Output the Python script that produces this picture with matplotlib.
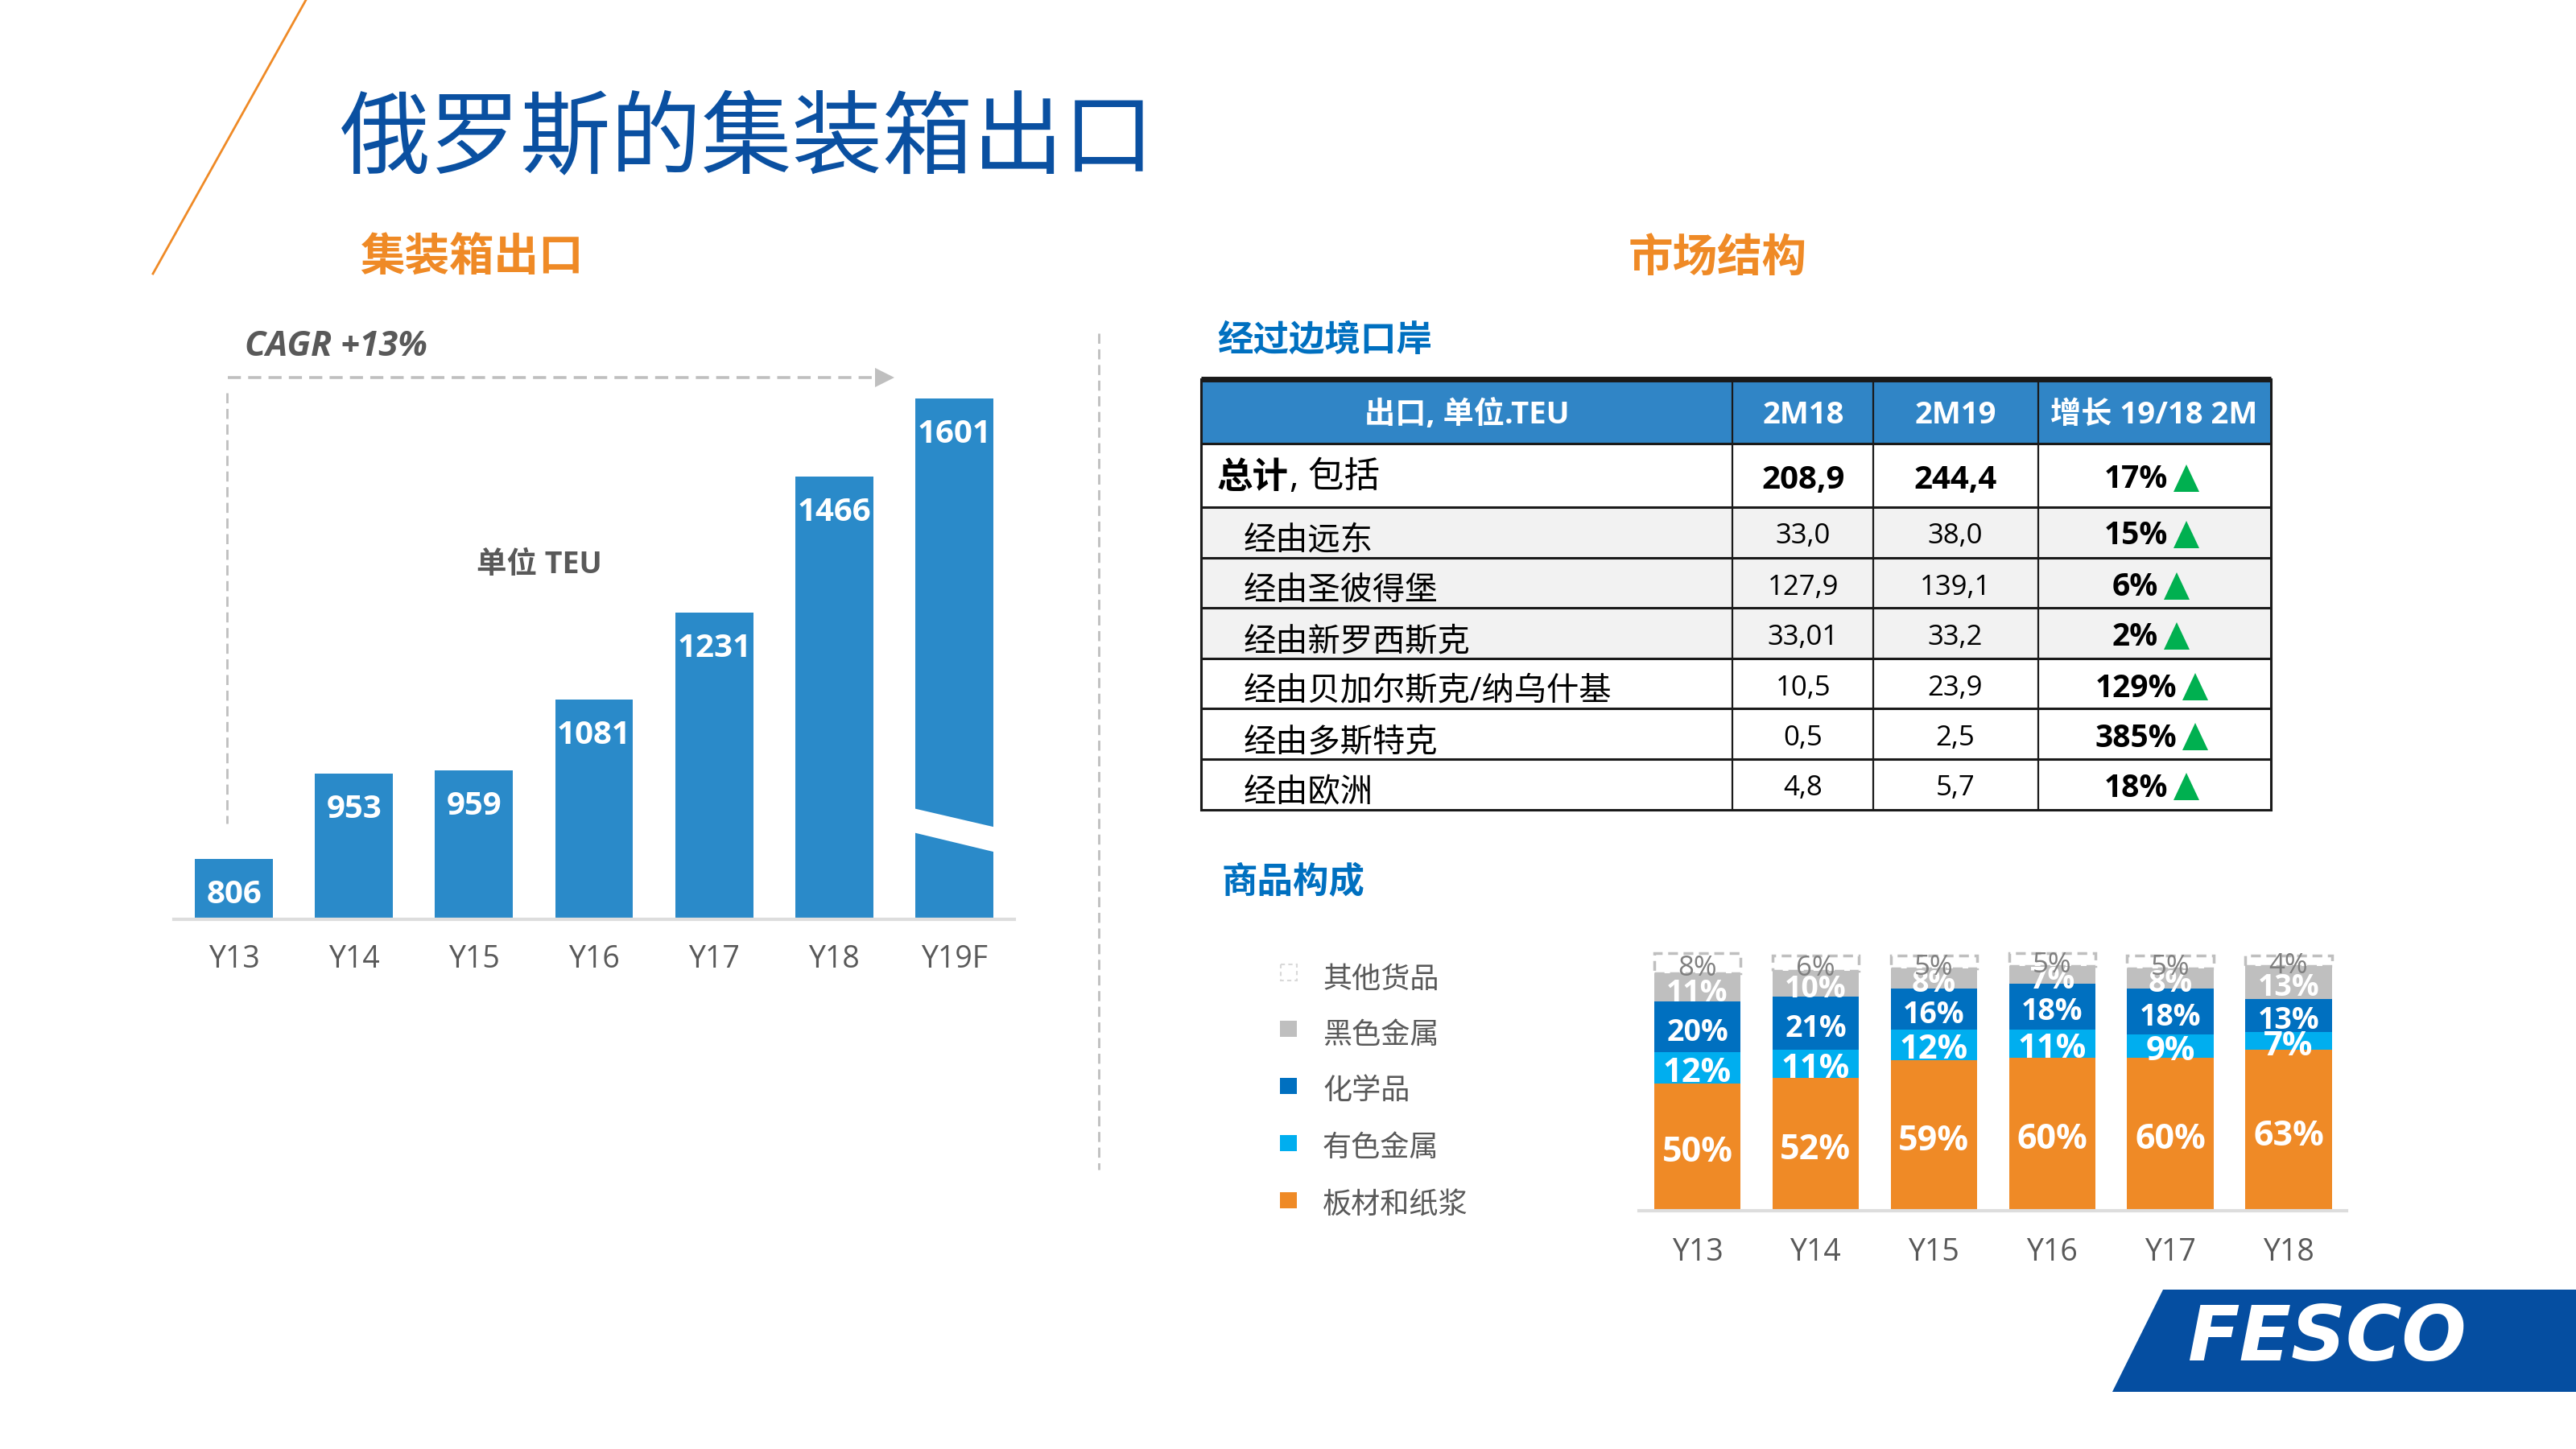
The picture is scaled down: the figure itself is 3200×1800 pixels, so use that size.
import matplotlib
matplotlib.use('Agg')
import matplotlib.pyplot as plt
from matplotlib.patches import Polygon, Rectangle

FONTS = ['Open Sans', 'Noto Sans CJK SC', 'DejaVu Sans']
plt.rcParams['font.family'] = FONTS

W, H = 3200, 1800
ORANGE = '#EF8A26'
BLUE = '#2A8AC9'
GREY_TEXT = '#595959'
LIGHT_GREY = '#BFBFBF'

# left chart
years = ['Y13', 'Y14', 'Y15', 'Y16', 'Y17', 'Y18', 'Y19F']
teu = [806, 953, 959, 1081, 1231, 1466, 1601]

# table
table_header = ['出口, 单位.TEU', '2M18', '2M19', '增长 19/18 2M']
row_names = ['总计, 包括', '经由远东', '经由圣彼得堡', '经由新罗西斯克',
             '经由贝加尔斯克/纳乌什基', '经由多斯特克', '经由欧洲']
col_2m18 = ['208,9', '33,0', '127,9', '33,01', '10,5', '0,5', '4,8']
col_2m19 = ['244,4', '38,0', '139,1', '33,2', '23,9', '2,5', '5,7']
col_growth = ['17%', '15%', '6%', '2%', '129%', '385%', '18%']

# stacked chart
mix_years = ['Y13', 'Y14', 'Y15', 'Y16', 'Y17', 'Y18']
pulp = [50, 52, 59, 60, 60, 63]
nonferrous = [12, 11, 12, 11, 9, 7]
chemicals = [20, 21, 16, 18, 18, 13]
ferrous = [11, 10, 8, 7, 8, 13]
other = [8, 6, 5, 5, 5, 4]
mix_names = ['其他货品', '黑色金属', '化学品', '有色金属', '板材和纸浆']

fig = plt.figure(figsize=(32, 18), dpi=100, facecolor='white')


def px_axes(left, top, right, bottom, **kw):
    return fig.add_axes([left / W, 1 - bottom / H, (right - left) / W, (bottom - top) / H], **kw)


def clean(ax):
    for s in ['top', 'left', 'right']:
        ax.spines[s].set_visible(False)
    ax.spines['bottom'].set_color('#DDDDDD')
    ax.spines['bottom'].set_linewidth(3)
    ax.set_yticks([])
    ax.tick_params(axis='x', length=0, labelsize=27, labelcolor=GREY_TEXT, pad=22)
    ax.patch.set_alpha(0)


# bar chart, axis does not start at zero in the source
ax1 = px_axes(216, 495, 1260, 1142)
ax1.bar(range(len(teu)), teu, width=0.65, color=BLUE, zorder=2)
ax1.set_xlim(-0.5, 6.5)
ax1.set_ylim(702, 1601)
ax1.set_xticks(range(len(years)))
ax1.set_xticklabels(years)
clean(ax1)
for i, v in enumerate(teu):
    ax1.annotate(str(v), (i, v), xytext=(0, -32), textcoords='offset points', ha='center',
                 va='center', color='white', fontsize=29, fontweight='bold', zorder=3)

# stacked bars
ax2 = px_axes(2036, 1180, 2915, 1504)
xs = list(range(len(mix_years)))
series = [pulp, nonferrous, chemicals, ferrous, other]
mix_colors = [ORANGE, '#00AEEF', '#0070C0', LIGHT_GREY, 'white']
label_colors = ['white', 'white', 'white', 'white', '#7F7F7F']
label_sizes = [31, 30, 27, 27, 25]
bottoms = [0] * len(xs)
for k, vals in enumerate(series):
    if k == 4:
        ax2.bar(xs, vals, 0.73, bottom=bottoms, color='white', edgecolor=LIGHT_GREY, linewidth=2.5,
                linestyle=(0, (3.5, 2)), zorder=1)
    else:
        ax2.bar(xs, vals, 0.73, bottom=bottoms, color=mix_colors[k], zorder=2)
    for i, v in enumerate(vals):
        ax2.annotate('%d%%' % v, (i, bottoms[i] + v / 2), xytext=(0, -5), textcoords='offset points',
                     ha='center', va='center', color=label_colors[k], fontsize=label_sizes[k],
                     fontweight='bold' if k < 4 else 'normal', zorder=5, annotation_clip=False)
    bottoms = [b + v for b, v in zip(bottoms, vals)]
ax2.set_xlim((2036 - 2108.5) / 146.9, (2915 - 2108.5) / 146.9)
ax2.set_ylim(0, 324 / 3.17)
ax2.set_xticks(xs)
ax2.set_xticklabels(mix_years)
clean(ax2)
ax2.tick_params(axis='x', pad=24)

# everything else in pixel coordinates of the slide
ov = fig.add_axes([0, 0, 1, 1], zorder=10)
ov.set_xlim(0, W)
ov.set_ylim(H, 0)
ov.axis('off')
ov.patch.set_alpha(0)

ov.plot([380, 190], [0, 340], color=ORANGE, lw=2)
ov.text(422, 174, '俄罗斯的集装箱出口', fontsize=81, color='#0A50A1', va='center', family='Noto Sans CJK SC')
ov.text(447, 321, '集装箱出口', fontsize=40, color=ORANGE, va='center', fontweight='bold', family='Noto Sans CJK SC')
ov.text(2023, 321, '市场结构', fontsize=40, color=ORANGE, va='center', fontweight='bold', family='Noto Sans CJK SC')
ov.text(1512, 423, '经过边境口岸', fontsize=32, color='#0070C0', va='center', fontweight='bold', family='Noto Sans CJK SC')
ov.text(1518, 1096, '商品构成', fontsize=32, color='#0070C0', va='center', fontweight='bold', family='Noto Sans CJK SC')
ov.text(304, 431, 'CAGR +13%', fontsize=31, color=GREY_TEXT, va='center', fontweight='bold', style='italic')
ov.text(592, 702, '单位 TEU', fontsize=27, color=GREY_TEXT, va='center', fontweight='bold')

# CAGR arrow and divider
dash = (0, (4.5, 2.5))
ov.plot([283, 1087], [469, 469], color=LIGHT_GREY, lw=2.6, linestyle=dash)
ov.add_patch(Polygon([(1087, 457), (1087, 481), (1111, 469)], color=LIGHT_GREY, lw=0))
ov.plot([282, 282], [488, 1023], color=LIGHT_GREY, lw=2, linestyle=dash)
ov.plot([1365, 1365], [414, 1453], color=LIGHT_GREY, lw=2, linestyle=dash)

# break in the last bar
ov.add_patch(Polygon([(1130, 1003), (1242, 1029), (1242, 1060), (1130, 1033)], color='white', lw=0))

# table
col_x = [1492, 2152, 2327, 2532, 2821]
row_y = [471, 551, 630, 693, 755, 818, 880, 943, 1006]
ov.add_patch(Rectangle((col_x[0], row_y[0]), col_x[-1] - col_x[0], row_y[1] - row_y[0], color='#3085C6', lw=0))
ov.add_patch(Rectangle((col_x[0], row_y[2]), col_x[-1] - col_x[0], row_y[5] - row_y[2], color='#F2F2F2', lw=0))
for y in row_y:
    ov.plot([col_x[0], col_x[-1]], [y, y], color='#1A1A1A', lw=5 if y == row_y[0] else 2.2, solid_capstyle='butt')
for x in col_x:
    ov.plot([x, x], [row_y[0], row_y[-1]], color='#1A1A1A', lw=1.6 if x not in (col_x[0], col_x[-1]) else 2.2)

header_centers = [1822, 2240, 2429, 2676]
for cx, label in zip(header_centers, table_header):
    ov.text(cx, 516, label, ha='center', va='center', color='white', fontsize=27.5, fontweight='bold')

value_y = [596, 666, 730, 792, 855, 917, 979]
name_y = [594, 673, 735, 798, 859, 923, 986]
right_by_len = {2: 2681, 3: 2693, 4: 2704}
for i in range(len(row_names)):
    bold_vals = 'bold' if i == 0 else 'normal'
    if i == 0:
        ov.text(1512, name_y[i], '总计', fontsize=32, fontweight='bold', va='center', color='black')
        ov.text(1602, name_y[i], ', 包括', fontsize=32, va='center', color='black')
    else:
        ov.text(1545, name_y[i], row_names[i], fontsize=29, va='center', color='black')
    size = 29 if i == 0 else 25
    ov.text(2240, value_y[i], col_2m18[i], ha='center', va='center', fontsize=size, fontweight=bold_vals, color='black')
    ov.text(2429, value_y[i], col_2m19[i], ha='center', va='center', fontsize=size, fontweight=bold_vals, color='black')
    right = right_by_len[len(col_growth[i])]
    ov.text(right, value_y[i], col_growth[i], ha='right', va='center', fontsize=28, fontweight='bold', color='black')
    y0 = value_y[i]
    ov.add_patch(Polygon([(right + 7, y0 + 15), (right + 39, y0 + 15), (right + 23, y0 - 19)], color='#00B050', lw=0))

# legend for stacked bars
legend_box_y = [1208, 1278, 1349, 1420, 1491]
legend_text_y = [1217, 1286, 1355, 1426, 1498]
legend_colors = ['white', LIGHT_GREY, '#0070C0', '#00AEEF', ORANGE]
for name, by, ty, col in zip(mix_names, legend_box_y, legend_text_y, legend_colors):
    if col == 'white':
        ov.add_patch(Rectangle((1591, by - 10), 20, 20, facecolor='white', edgecolor='#D9D9D9', lw=1.5, linestyle=(0, (2.5, 2))))
    else:
        ov.add_patch(Rectangle((1590, by - 10), 21, 20, color=col, lw=0))
    ov.text(1643, ty, name, fontsize=26, color=GREY_TEXT, va='center', family='Noto Sans CJK SC')

# logo
ov.add_patch(Polygon([(2687, 1602), (3200, 1602), (3200, 1729), (2624, 1729)], color='#054EA1', lw=0))
ov.text(2890, 1664, 'FESCO', color='white', fontsize=68, ha='center', va='center', fontweight='bold',
        style='italic', family='DejaVu Sans')

fig.savefig('out.png', dpi=100)
